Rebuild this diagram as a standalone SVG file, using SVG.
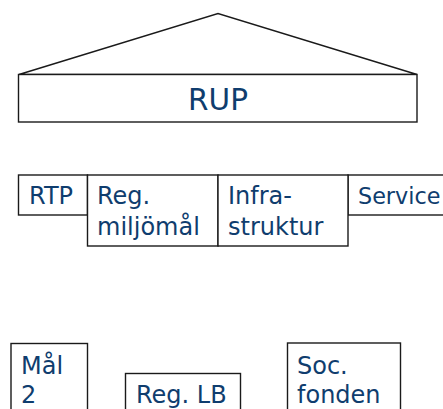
<svg xmlns="http://www.w3.org/2000/svg" width="443" height="409" viewBox="0 0 443 409">
<style>
.box{fill:#fff;stroke:#1a1a1a;stroke-width:1.4}
.t{font-family:"DejaVu Sans","Liberation Sans",sans-serif;font-size:24px;fill:#0f3d6e}
.big{font-size:29.5px}
.sm{font-size:22.3px}
</style>
<rect width="443" height="409" fill="#fff"/>
<g id="roof"><polygon class="box" points="19,74.5 218,13.5 417,74.5"/></g>
<g id="rup"><rect class="box" x="18.5" y="74.5" width="398.5" height="47.5"/><text class="t big" x="218" y="110" text-anchor="middle">RUP</text></g>
<g id="rtp"><rect class="box" x="18.5" y="175" width="69" height="40"/><text class="t" x="29" y="204">RTP</text></g>
<g id="service"><rect class="box" x="348" y="175" width="100" height="40"/><text class="t sm" x="358" y="204">Service</text></g>
<g id="regmiljo"><rect class="box" x="87.5" y="175" width="130.5" height="71"/><text class="t" x="97" y="204">Reg.</text><text class="t" x="97" y="235">miljömål</text></g>
<g id="infra"><rect class="box" x="218" y="175" width="130" height="71"/><text class="t" x="228" y="204">Infra-</text><text class="t" x="228" y="235">struktur</text></g>
<g id="mal2"><rect class="box" x="11" y="343.5" width="76.5" height="80"/><text class="t" x="21" y="374">Mål</text><text class="t" x="21" y="403">2</text></g>
<g id="reglb"><rect class="box" x="125.5" y="373.5" width="115" height="50"/><text class="t" x="136" y="403">Reg. LB</text></g>
<g id="soc"><rect class="box" x="287.5" y="343" width="113" height="80"/><text class="t" x="297" y="374">Soc.</text><text class="t" x="297" y="403">fonden</text></g>
<g id="connectors"></g>
</svg>
